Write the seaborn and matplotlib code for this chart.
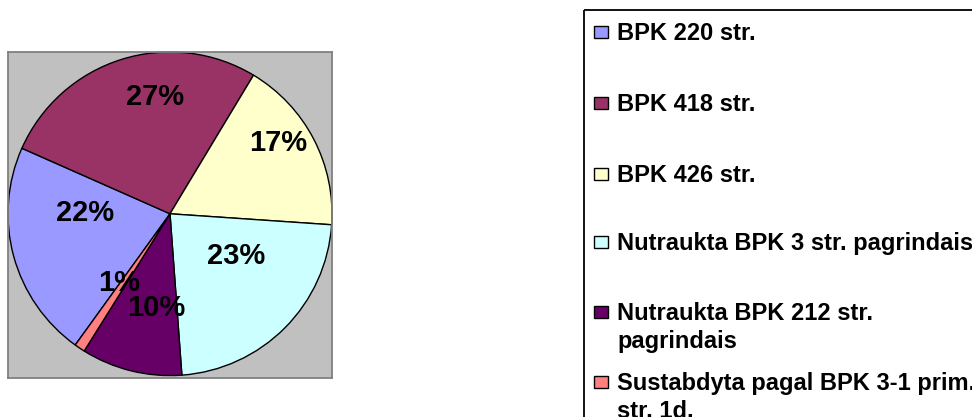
import matplotlib
matplotlib.use("Agg")
import matplotlib.pyplot as plt
import seaborn as sns
import numpy as np
from matplotlib.patches import Rectangle

# ---- data ----
categories = [
    "BPK 220 str.",
    "BPK 418 str.",
    "BPK 426 str.",
    "Nutraukta BPK 3 str. pagrindais",
    "Nutraukta BPK 212 str.\npagrindais",
    "Sustabdyta pagal BPK 3-1 prim.\nstr. 1d.",
]
counts = [41, 51, 33, 43, 19, 2]
colors = ["#9999FF", "#993366", "#FFFFCC", "#CCFFFF", "#660066", "#FF8080"]

# ---- style / layout ----
label_pos = [(-0.526, 0.004), (-0.095, 0.722), (0.670, 0.435),
             (0.407, -0.263), (-0.085, -0.580), (-0.311, -0.426)]
legend_baselines = [40, 111, 182, 250, 320, 390]

sns.set_theme(style="white")
plt.rcParams['font.family'] = ['Liberation Sans', 'DejaVu Sans']

W, H = 972, 417
fig = plt.figure(figsize=(W / 100, H / 100), dpi=100)
fig.patch.set_facecolor("white")

ax = fig.add_axes([8 / W, 1 - 378 / H, 324 / W, 326 / H])
wedges, texts, autotexts = ax.pie(
    counts, colors=colors, startangle=234.2, counterclock=False,
    wedgeprops=dict(edgecolor="black", linewidth=1.0),
    autopct=lambda p: f"{p:.0f}%",
    textprops=dict(fontsize=21, fontweight="bold", color="black"),
)
for t, (px, py) in zip(autotexts, label_pos):
    t.set_position((px, py))
    t.set_ha("center")
    t.set_va("center")
ax.set_aspect("auto")
ax.set_xlim(-1.0, 1.0)
ax.set_ylim(-1.015, 1.0)
ax.set_frame_on(True)
ax.set_facecolor("#C0C0C0")
for s in ax.spines.values():
    s.set_visible(True)
    s.set_color("#808080")
    s.set_linewidth(1.3)
ax.set_xticks([])
ax.set_yticks([])

# ---- legend ----
lax = fig.add_axes([0, 0, 1, 1])
lax.set_xlim(0, W)
lax.set_ylim(H, 0)
lax.axis("off")
lax.add_patch(Rectangle((584, 10), 500, 500, fill=False, edgecolor="black", linewidth=1.3))
for lab, col, base in zip(categories, colors, legend_baselines):
    lax.add_patch(Rectangle((594, base - 14), 14, 12, facecolor=col,
                            edgecolor="black", linewidth=1.0))
    for j, line in enumerate(lab.split("\n")):
        lax.text(617, base + 28 * j, line, va="baseline", ha="left",
                 fontsize=17, fontweight="bold", color="black")

fig.savefig("out.png", dpi=100)
